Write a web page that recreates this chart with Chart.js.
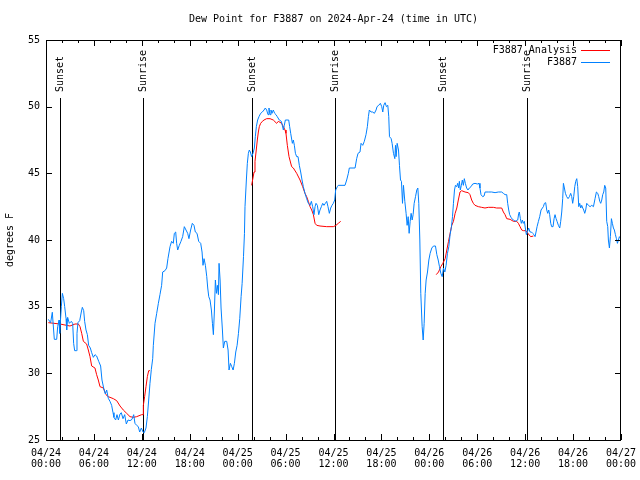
<!DOCTYPE html>
<html><head><meta charset="utf-8">
<script src="https://cdn.jsdelivr.net/npm/chart.js@4/dist/chart.umd.min.js"></script>
<style>html,body{margin:0;padding:0;background:#fff;}canvas{display:block;}</style>
</head><body>
<canvas id="c" width="640" height="480"></canvas>
<script>
const FONT = "'DejaVu Sans Mono', 'Liberation Mono', monospace";
const titleText = 'Dew Point for F3887 on 2024-Apr-24 (time in UTC)';
const yAxisTitle = 'degrees F';

const xTickHours = [0, 6, 12, 18, 24, 30, 36, 42, 48, 54, 60, 66, 72];
const xTickDates = ['04/24','04/24','04/24','04/24','04/25','04/25','04/25','04/25','04/26','04/26','04/26','04/26','04/27'];
const xTickTimes = ['00:00','06:00','12:00','18:00','00:00','06:00','12:00','18:00','00:00','06:00','12:00','18:00','00:00'];

const eventHours = [1.7, 12.2, 25.75, 36.25, 49.75, 60.2];
const eventLabels = ['Sunset', 'Sunrise', 'Sunset', 'Sunrise', 'Sunset', 'Sunrise'];

const blueHours = [0.29,0.58,0.79,1.04,1.34,1.46,1.63,1.71,1.92,2.05,2.21,2.34,2.51,2.59,2.71,2.92,3.17,3.34,3.46,3.59,3.8,3.88,4.0,4.22,4.42,4.55,4.72,4.84,5.01,5.18,5.34,5.55,5.72,5.93,6.14,6.34,6.6,6.84,7.01,7.22,7.43,7.6,7.8,8.01,8.22,8.39,8.51,8.72,8.89,9.06,9.27,9.43,9.64,9.85,10.06,10.27,10.52,10.77,10.98,11.14,11.35,11.56,11.73,11.94,12.15,12.31,12.52,12.69,12.86,13.02,13.19,13.36,
13.44,13.65,13.86,14.07,14.27,14.48,14.61,14.9,15.11,15.27,15.53,15.73,15.94,16.07,16.24,16.36,16.49,16.69,16.9,17.11,17.32,17.53,17.74,17.9,18.11,18.32,18.53,18.7,18.91,19.12,19.37,19.54,19.66,19.79,19.96,20.13,20.25,20.38,20.54,20.71,20.84,20.96,21.09,21.21,21.34,21.46,21.59,21.67,21.8,21.92,22.09,22.21,22.38,22.63,22.8,22.92,23.09,23.26,23.43,23.59,23.76,23.93,24.1,24.26,24.43,24.56,24.73,
24.85,24.92,25.09,25.21,25.34,25.46,25.59,25.75,25.92,26.09,26.21,26.34,26.5,26.67,26.88,27.09,27.3,27.46,27.63,27.8,27.92,28.05,28.17,28.3,28.46,28.63,28.8,28.96,29.21,29.47,29.59,29.72,29.84,29.97,30.18,30.39,30.51,30.64,30.85,30.97,31.1,31.23,31.39,31.56,31.72,31.89,32.06,32.22,32.43,32.64,32.85,33.06,33.23,33.39,33.56,33.69,33.81,33.98,34.15,34.31,34.48,34.65,34.81,34.98,35.15,35.31,35.48,35.65,35.81,35.98,36.15,36.27,36.48,36.6,37.44,37.65,37.86,37.98,38.7,38.9,39.07,39.32,39.45,39.66,39.86,40.07,40.24,40.37,40.49,40.7,40.91,41.12,41.33,41.45,41.66,41.87,42.04,42.17,42.29,42.46,42.63,42.8,42.92,43.01,43.22,43.34,43.51,43.68,43.76,43.84,43.97,44.14,44.26,44.39,44.51,44.64,44.76,44.93,45.09,45.22,45.35,45.47,45.6,45.72,45.85,45.97,46.1,46.27,46.43,46.56,46.68,46.81,46.93,47.1,47.23,47.35,47.48,47.6,47.77,47.94,48.1,48.31,48.52,48.77,48.94,49.11,49.27,49.44,49.61,49.77,49.94,50.1,50.27,50.44,50.6,50.77,50.9,51.02,51.15,51.27,
51.42,51.55,51.67,51.76,51.88,52.01,52.13,52.26,52.38,52.51,52.67,52.84,53.01,53.22,53.43,53.72,54.01,54.22,54.34,54.47,54.68,54.85,54.98,55.39,55.81,56.23,56.64,57.06,57.27,57.48,57.69,57.81,57.94,58.06,58.23,58.4,58.57,58.73,58.9,59.07,59.19,59.27,59.4,59.52,59.65,59.77,59.9,60.02,60.15,60.27,60.44,60.61,60.78,60.94,61.11,61.24,61.36,61.49,61.66,61.82,61.99,62.16,62.28,62.41,62.57,62.7,62.82,62.95,63.07,63.2,63.32,63.49,63.62,63.74,63.87,63.99,64.16,64.33,64.45,64.58,64.7,64.79,64.91,65.04,65.2,65.37,65.54,65.7,65.83,65.95,66.08,66.21,66.33,66.46,66.58,66.71,66.83,66.96,67.08,67.21,67.33,67.46,67.58,67.71,67.92,68.13,68.34,68.55,68.75,68.92,69.09,69.21,69.34,69.46,69.59,69.71,69.84,69.96,70.09,70.21,70.34,70.42,70.55,70.67,70.8,70.92,71.05,71.17,71.3,71.43,71.55,71.68,71.8,71.97];
const blueDew = [34.05,33.8,34.58,32.55,32.55,33.5,34.0,33.0,35.0,36.0,35.6,35.0,34.1,33.25,34.2,33.75,33.9,33.75,32.25,31.7,31.7,33.0,33.8,33.95,34.6,34.95,34.7,33.9,33.25,32.9,32.1,31.9,31.55,31.2,31.4,31.3,30.9,30.55,29.5,28.9,28.45,28.75,28.13,27.9,27.6,27.05,26.7,26.5,26.9,26.5,26.95,27.05,26.6,26.9,26.2,26.5,26.45,26.55,26.9,26.25,26.1,26.0,25.6,25.9,25.6,25.55,25.9,26.75,28.0,29.25,30.3,31.1,
32.1,33.75,34.5,35.25,35.9,36.6,37.6,37.7,37.9,38.6,39.5,39.9,39.75,40.5,40.6,39.75,39.25,39.6,39.9,40.25,41.0,40.75,40.5,40.1,40.75,41.25,41.1,40.6,40.5,39.9,39.75,39.1,38.1,38.6,38.1,37.25,36.4,35.75,35.5,34.75,33.75,32.9,34.75,37.0,36.0,36.6,35.9,38.25,37.0,34.9,33.25,31.9,32.4,32.4,31.75,30.25,30.75,30.5,30.25,30.75,31.6,32.1,33.0,34.1,35.75,36.75,38.75,
40.5,42.5,44.5,45.75,46.5,46.75,46.6,46.25,46.5,46.9,47.75,48.5,49.0,49.25,49.5,49.6,49.75,49.9,49.75,49.4,49.9,49.4,49.75,49.5,49.75,49.5,49.4,49.25,49.0,48.9,48.6,48.25,48.6,49.0,49.0,49.0,48.5,48.0,47.25,47.5,47.1,46.5,46.25,46.25,45.6,45.1,44.5,44.0,43.5,43.1,42.75,42.6,42.9,42.5,41.9,42.5,42.75,42.6,41.9,42.25,42.5,42.75,42.6,42.75,42.9,42.5,42.0,42.4,42.6,42.75,43.0,43.75,44.0,44.1,44.1,44.5,45.0,45.4,45.4,46.1,46.5,46.6,47.25,47.1,47.4,47.9,48.5,49.25,49.75,49.6,49.6,49.5,49.75,50.0,50.1,50.25,50.0,49.6,50.1,50.3,50.0,50.1,49.25,47.75,47.6,47.25,46.5,46.1,47.1,46.25,47.25,46.75,45.6,44.5,44.4,42.75,44.1,42.9,42.0,41.1,41.75,40.5,41.4,42.0,41.5,41.9,42.75,43.25,43.75,43.9,42.75,40.0,36.0,33.5,32.5,33.75,36.0,37.0,37.6,38.5,39.0,39.4,39.55,39.55,38.9,38.5,38.0,37.5,37.25,37.9,37.6,38.1,39.0,39.5,40.4,41.0,41.75,42.75,43.75,44.1,
44.0,44.25,43.9,44.4,43.75,44.1,44.5,44.1,44.6,44.25,43.9,43.75,43.9,44.0,44.2,44.25,44.2,44.25,43.9,43.4,43.25,43.3,43.6,43.6,43.6,43.55,43.6,43.6,43.5,43.4,43.4,42.75,42.25,41.9,41.7,41.55,41.5,41.4,41.45,41.5,42.0,42.1,41.6,41.25,41.5,41.25,41.4,40.9,40.4,40.6,40.9,40.6,40.6,40.5,40.4,40.25,40.6,41.0,41.4,41.75,42.25,42.4,42.5,42.75,42.8,42.25,42.0,42.25,41.9,41.25,41.0,41.0,41.6,41.9,41.6,41.4,41.1,40.9,41.4,42.1,43.1,44.25,43.9,43.5,43.25,43.1,43.25,43.5,43.25,42.75,43.25,44.0,44.4,44.6,44.0,42.5,42.75,42.4,42.6,42.4,42.25,42.0,42.25,42.75,42.6,42.5,42.6,42.5,43.1,43.6,43.5,43.25,42.9,42.75,43.0,43.4,43.6,44.1,43.9,41.4,41.0,40.0,39.4,40.25,41.6,41.25,40.9,40.75,40.4,40.1,39.75,40.0,40.25,40.1];

const redHours = [0.29,1.75,3.0,3.63,4.05,4.26,4.47,4.68,5.09,5.3,5.51,5.72,6.13,6.34,6.55,6.76,7.18,7.51,7.8,8.43,8.85,9.27,9.68,10.1,10.52,10.94,11.35,11.98,12.15,12.19,12.35,12.52,12.69,12.86,13.02,
13.5,
25.75,25.87,26.05,26.17,26.3,26.46,26.59,26.71,26.88,27.09,27.3,27.63,28.05,28.46,28.88,29.09,29.51,29.72,29.93,30.05,30.22,30.43,30.76,30.97,31.39,31.81,32.14,32.43,32.64,32.85,33.06,33.27,33.48,33.69,33.9,34.31,35.15,35.98,36.31,36.6,36.9,
40.0,
48.86,49.15,49.44,49.69,49.98,50.19,50.4,50.6,50.81,51.02,51.23,51.44,51.63,51.84,52.05,52.47,52.88,53.09,53.3,53.51,53.72,54.14,54.55,54.97,55.39,56.01,56.43,57.06,57.27,57.48,57.69,58.11,58.53,58.94,59.15,59.36,59.57,59.77,60.11,60.4,60.69,61.03];
const redDew = [33.8,33.7,33.55,33.7,33.7,33.5,33.0,32.4,32.2,31.75,31.25,30.55,30.4,29.9,29.5,29.0,28.9,28.4,28.25,28.1,27.95,27.55,27.25,27.0,26.75,26.7,26.75,26.9,26.9,27.6,28.25,29.0,29.75,30.2,30.2,
null,
44.1,44.5,45.1,45.9,46.6,47.5,48.1,48.5,48.75,48.9,49.0,49.1,49.1,49.0,48.75,48.9,48.75,48.5,48.25,48.0,47.1,46.25,45.5,45.4,45.0,44.5,44.0,43.5,43.25,42.9,42.5,42.25,41.9,41.25,41.1,41.05,41.0,41.0,41.1,41.25,41.4,
null,
37.4,37.6,38.0,38.25,38.6,39.25,39.9,40.5,41.1,41.4,42.0,42.4,43.0,43.6,43.7,43.6,43.55,43.4,43.0,42.75,42.6,42.5,42.45,42.4,42.45,42.45,42.4,42.4,42.1,41.9,41.6,41.55,41.4,41.4,41.25,41.0,40.75,40.7,40.7,40.45,40.25,40.3];

const bluePts = blueHours.map((h, i) => ({x: h, y: blueDew[i]}));
const redPts = redHours.map((h, i) => ({x: h, y: redDew[i]}));

const decor = {
  id: 'decor',
  beforeDatasetsDraw(chart) {
    const {ctx, chartArea: a, scales: {x}} = chart;
    const h = a.bottom - a.top;
    ctx.save();
    ctx.strokeStyle = '#000';
    ctx.lineWidth = 1;
    ctx.fillStyle = '#000';
    ctx.font = '10px ' + FONT;
    eventHours.forEach((t, i) => {
      const px = Math.round(x.getPixelForValue(t)) + 0.5;
      ctx.beginPath();
      ctx.moveTo(px, a.bottom);
      ctx.lineTo(px, a.top + h * 0.145);
      ctx.stroke();
      ctx.save();
      ctx.translate(px, a.top + h * 0.13);
      ctx.rotate(-Math.PI / 2);
      ctx.textAlign = 'left';
      ctx.textBaseline = 'middle';
      ctx.fillText(eventLabels[i], 0, 0);
      ctx.restore();
    });
    ctx.restore();
  },
  afterDraw(chart) {
    const {ctx, chartArea: a, scales: {x, y}} = chart;
    ctx.save();
    ctx.strokeStyle = '#000';
    ctx.lineWidth = 1;
    ctx.strokeRect(a.left + 0.5, a.top + 0.5, a.right - a.left - 1, a.bottom - a.top);
    ctx.beginPath();
    for (let t = 0; t <= 72; t += 2) {
      const px = Math.round(x.getPixelForValue(t)) + 0.5;
      const len = (t % 6 === 0) ? 6 : 3;
      ctx.moveTo(px, a.bottom); ctx.lineTo(px, a.bottom - len);
      ctx.moveTo(px, a.top); ctx.lineTo(px, a.top + len);
    }
    for (let v = 25; v <= 55; v += 5) {
      const py = Math.round(y.getPixelForValue(v)) + 0.5;
      ctx.moveTo(a.left, py); ctx.lineTo(a.left + 6, py);
      ctx.moveTo(a.right, py); ctx.lineTo(a.right - 6, py);
    }
    ctx.stroke();
    // legend (gnuplot style: text right-aligned, sample line to the right)
    ctx.font = '10px ' + FONT;
    ctx.textAlign = 'right';
    ctx.textBaseline = 'middle';
    ctx.fillStyle = '#000';
    const order = [1, 0];
    order.forEach((di, row) => {
      const ds = chart.data.datasets[di];
      const ly = a.top + 10 + row * 12;
      ctx.fillText(ds.label, a.right - 44, ly);
      ctx.strokeStyle = ds.borderColor;
      ctx.beginPath();
      ctx.moveTo(a.right - 40, ly + 0.5);
      ctx.lineTo(a.right - 11, ly + 0.5);
      ctx.stroke();
    });
    ctx.restore();
  }
};

new Chart(document.getElementById('c'), {
  type: 'line',
  data: {
    datasets: [
      { label: 'F3887', data: bluePts, borderColor: 'rgb(0,128,255)', borderWidth: 1, pointRadius: 0, tension: 0, spanGaps: false, order: 0 },
      { label: 'F3887 Analysis', data: redPts, borderColor: 'rgb(255,0,0)', borderWidth: 1, pointRadius: 0, tension: 0, spanGaps: false, order: 1 }
    ]
  },
  options: {
    responsive: false,
    animation: false,
    layout: { padding: { left: 0, right: 19, top: 0, bottom: 0 } },
    plugins: {
      legend: { display: false },
      tooltip: { enabled: false },
      title: {
        display: true, text: titleText, fullSize: false, color: '#000',
        font: { family: FONT, size: 10, weight: 'normal', lineHeight: 1.2 },
        padding: { top: 13, bottom: 15 }
      }
    },
    scales: {
      x: {
        type: 'linear', min: 0, max: 72,
        grid: { display: false, drawTicks: false },
        border: { display: false },
        afterBuildTicks(s) { s.ticks = xTickHours.map(v => ({ value: v })); },
        ticks: {
          autoSkip: false, maxRotation: 0, minRotation: 0, padding: 8, color: '#000',
          font: { family: FONT, size: 10, lineHeight: 1.1 },
          callback(v) { const i = xTickHours.indexOf(v); return i >= 0 ? [xTickDates[i], xTickTimes[i]] : ''; }
        },
        afterFit(s) { s.height = 40; s.paddingRight = 0; s.paddingLeft = 0; }
      },
      y: {
        min: 25, max: 55,
        grid: { display: false, drawTicks: false },
        border: { display: false },
        ticks: { stepSize: 5, padding: 6, color: '#000', font: { family: FONT, size: 10 } },
        title: { display: true, text: yAxisTitle, color: '#000', font: { family: FONT, size: 10, lineHeight: 1.2 }, padding: { top: 4, bottom: 0 } },
        afterFit(s) { s.width = 46; s.paddingTop = 0; s.paddingBottom = 0; }
      }
    }
  },
  plugins: [decor]
});
</script>
</body></html>
